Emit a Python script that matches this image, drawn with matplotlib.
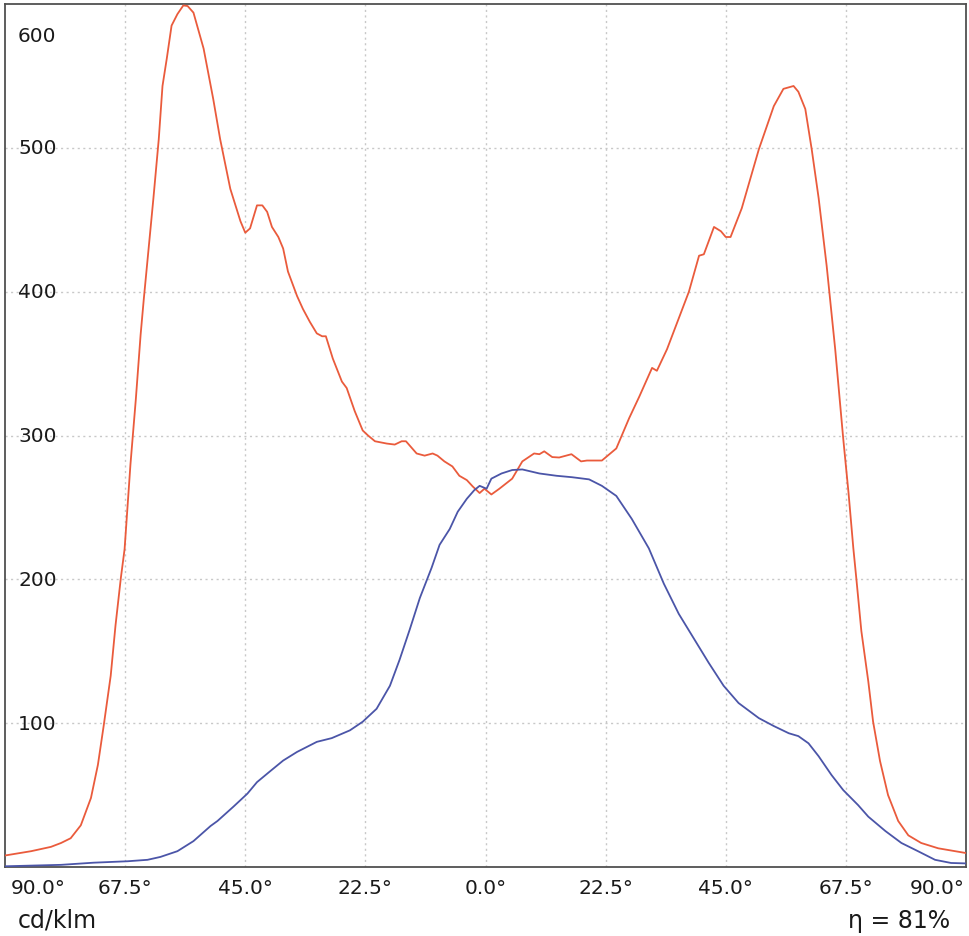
import matplotlib
matplotlib.use("Agg")
import matplotlib.pyplot as plt

# C0-C180 plane (red)
red_angle = [-90, -85.1, -81.4, -79.5, -77.7, -75.8, -73.9, -72.6, -71.5, -70.2, -69.3, -68.3,
             -67.6, -66.5, -65.5, -64.6, -64.0, -62.2, -61.2, -60.5, -59.7, -58.8, -57.7, -56.6,
             -55.8, -54.7, -52.8, -51.0, -49.7, -47.8, -45.9, -45.0, -44.1, -42.8, -41.8, -40.9,
             -40.0, -38.8, -37.9, -37.0, -35.3, -34.2, -32.9, -31.6, -30.6, -29.9, -28.6, -26.9,
             -26.0, -24.5, -23.0, -22.0, -20.7, -18.5, -17.0, -15.7, -14.9, -12.9, -11.4, -9.9,
             -9.0, -7.7, -6.2, -4.9, -3.5, -2.4, -1.1, -0.2, 1.1, 2.6, 5.0, 6.9, 9.1, 10.1, 11.0,
             12.5, 13.8, 16.1, 17.9, 19.0, 21.8, 24.5, 26.9, 28.8, 31.2, 32.1, 34.0, 38.1, 40.0,
             40.9, 42.8, 44.1, 45.0, 45.9, 48.0, 51.2, 54.0, 55.8, 57.7, 58.6, 59.9, 61.1, 62.4,
             63.9, 65.5, 67.0, 68.0, 68.9, 69.5, 70.4, 71.7, 72.6, 73.9, 75.4, 77.3, 79.2, 81.6,
             84.8, 90]
red_value = [8, 11, 14, 16.7, 20, 29, 48, 71, 98.6, 133, 168, 201,
             221, 280, 325, 370, 395, 465, 506, 543, 562, 585, 593, 599,
             598.6, 594, 569, 534, 506, 471.5, 449, 441, 444, 460, 460, 455.5,
             445, 438, 430, 414, 397, 388, 379, 371, 369, 369, 353.5, 337.5,
             333, 317, 303.5, 300, 296, 294.4, 293.7, 296, 296, 287.5, 286, 287.5,
             286, 282, 278.5, 272, 269, 264.6, 260, 263, 259, 263, 270, 282, 287.5, 287, 289,
             285, 284.7, 287, 282, 282.6, 282.6, 291, 312, 327, 347, 345, 360, 400, 425,
             426, 445, 442, 438, 438, 458, 499, 529, 541, 543, 539, 527, 499, 465,
             418, 360, 298, 260, 221.5, 199, 164, 129, 101, 73.6, 50, 32, 22, 16.7,
             13, 9.7]

# C90-C270 plane (blue)
blue_angle = [-90, -79.5, -73.4, -67.0, -63.3, -60.9, -57.7, -54.7, -51.5, -50.2, -47.2, -44.6,
              -42.8, -40.3, -37.9, -35.3, -31.6, -28.8, -25.4, -23.0, -20.4, -17.9, -16.1, -14.2,
              -12.3, -10.1, -8.6, -6.7, -5.2, -3.5, -2.1, -1.1, 0.2, 1.1, 3.0, 5.0, 6.9, 10.1,
              13.3, 16.2, 19.4, 21.8, 24.5, 27.4, 30.6, 33.4, 36.2, 39.0, 41.8, 44.6, 47.4, 51.2,
              54.0, 56.8, 58.6, 60.5, 62.4, 64.8, 67.0, 69.8, 71.7, 74.9, 77.9, 81.0, 84.2, 87.2, 90]
blue_value = [0.5, 1.5, 3, 4, 5, 7, 11, 18, 28.5, 32, 42, 51,
              59, 66.7, 74, 80, 87, 89.6, 95, 101, 110, 126, 144, 165,
              187, 208, 224, 235, 247, 256, 262, 265, 263, 270, 273.6, 276, 276.4, 273.6,
              272, 271, 269.5, 265, 258, 242, 221.5, 197, 176, 159, 142, 126, 114, 103.5,
              98, 93, 91, 86, 77, 64, 53.5, 43, 35, 25, 16.7, 11, 5, 2.8, 2.5]

x_ticks = [-90, -67.5, -45, -22.5, 0, 22.5, 45, 67.5, 90]
x_tick_labels = ["90.0°", "67.5°", "45.0°", "22.5°", "0.0°", "22.5°", "45.0°", "67.5°", "90.0°"]
y_ticks = [100, 200, 300, 400, 500, 600]
unit_label = "cd/klm"
eff_label = "η = 81%"

W, H = 969, 937
fig = plt.figure(figsize=(W / 100, H / 100), dpi=100)
fig.patch.set_facecolor("white")
ax = fig.add_axes([5 / W, 1 - 868 / H, 961 / W, 863 / H])
ax.set_xlim(-90, 90)
ax.set_ylim(0, 600)

grid_kw = dict(color="#c8c8c8", lw=1.0, ls=(0, (1.5, 2.5)), zorder=0)
for xv in x_ticks[1:-1]:
    ax.axvline(xv, **grid_kw)
for yv in y_ticks[:-1]:
    ax.axhline(yv, **grid_kw)

ax.plot(red_angle, red_value, color="#EA5B3C", lw=1.3, zorder=3)
ax.plot(blue_angle, blue_value, color="#4B55A8", lw=1.3, zorder=3)

ax.set_xticks([])
ax.set_yticks([])
for s in ax.spines.values():
    s.set_color("#505050")
    s.set_linewidth(1.3)

txt_color = "#1a1a1a"
# y labels inside the axes
ytrans = ax.get_yaxis_transform()
for yv in y_ticks:
    if yv == 600:
        ax.text(13 / 961, 1 - 31 / 863, str(yv), transform=ax.transAxes, ha="left",
                va="center", fontsize=14.5, color=txt_color)
    else:
        ax.text(13 / 961, yv, str(yv), transform=ytrans, ha="left", va="center",
                fontsize=14.5, color=txt_color)

# x labels below the axes
xtrans = ax.get_xaxis_transform()
for xv, lab in zip(x_ticks, x_tick_labels):
    xpos = xv
    if xv == -90:
        xpos = -83.7
    elif xv == 90:
        xpos = 84.6
    ax.text(xpos, -21 / 863, lab, transform=xtrans, ha="center", va="center",
            fontsize=14.5, color=txt_color, clip_on=False)

fig.text(18 / W, 1 - 921 / H, unit_label, ha="left", va="center", fontsize=17, color=txt_color)
fig.text(950 / W, 1 - 921 / H, eff_label, ha="right", va="center", fontsize=17, color=txt_color)

fig.savefig("out.png", dpi=100, facecolor="white")
